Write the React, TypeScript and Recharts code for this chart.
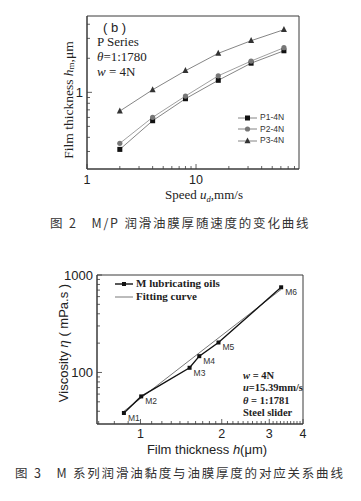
import React from "react";
import { LineChart, Line, XAxis, YAxis, ReferenceArea, Label, LabelList, Legend } from "recharts";

// Fig. 2 : film thickness vs speed (P series, 4N)
const speeds = [2, 4, 8, 16, 32, 64];
const p1Thickness = [0.313, 0.561, 0.878, 1.277, 1.81, 2.33];
const p2Thickness = [0.354, 0.601, 0.927, 1.4, 1.89, 2.48];
const p3Thickness = [0.683, 1.054, 1.553, 2.213, 2.86, 3.58];
const speedTicks = [1, 2, 3, 4, 5, 6, 7, 8, 9, 10, 20, 30, 40, 50, 60, 70, 80];
const speedLabels = [1, 10];
const thicknessTicks = [0.3, 0.4, 0.5, 0.6, 0.7, 0.8, 0.9, 1, 2, 3, 4];
const thicknessLabels = [1];

// Fig. 3 : viscosity vs film thickness (M series)
const oilNames = ["M1", "M2", "M3", "M4", "M5", "M6"];
const oilThickness = [0.868, 1.006, 1.52, 1.651, 1.945, 3.32];
const oilViscosity = [38.4, 56.8, 111.7, 147, 203, 748];
const fitThickness = [0.868, 3.32];
const fitViscosity = [40, 712];
const hTicks = [0.7, 0.8, 0.9, 1, 1.1, 1.2, 1.3, 1.4, 1.5, 1.6, 1.7, 1.8, 1.9, 2, 2.1, 2.2, 2.3, 2.4, 2.5, 2.6, 2.7, 2.8, 2.9, 3, 3.1, 3.2, 3.3, 3.4, 3.5, 3.6, 3.7, 3.8, 3.9, 4];
const hLabels = [1, 2, 3, 4];
const etaTicks = [40, 50, 60, 70, 80, 90, 100, 200, 300, 400, 500, 600, 700, 800, 900, 1000];
const etaLabels = [100, 1000];

const SANS = "'Liberation Sans', Arial, sans-serif";
const SERIF = "'Liberation Serif', 'Times New Roman', serif";
const CJK = "'Noto Sans CJK SC', sans-serif";
const AXIS = "#3a3a3a";

const speedData = speeds.map((s, i) => ({ speed: s, p1: p1Thickness[i], p2: p2Thickness[i], p3: p3Thickness[i] }));
const oilData = oilNames.map((n, i) => ({ name: n, h: oilThickness[i], eta: oilViscosity[i] }));
const fitData = fitThickness.map((h, i) => ({ h, eta: fitViscosity[i] }));

function leftTick(labels: number[]) {
  return (props: any) => {
    const { x, y, payload } = props;
    const major = labels.includes(payload.value);
    return (
      <g>
        <line x1={x} x2={x + (major ? 5 : 3)} y1={y} y2={y} stroke={AXIS} strokeWidth={0.8} />
        {major && (
          <text x={x - 4} y={y + 4.5} textAnchor="end" fontSize={13} fontFamily={SANS} fill="#222">
            {payload.value}
          </text>
        )}
      </g>
    );
  };
}

function bottomTick(labels: number[], gap: number) {
  return (props: any) => {
    const { x, y, payload } = props;
    const major = labels.includes(payload.value);
    return (
      <g>
        <line x1={x} x2={x} y1={y} y2={y - (major ? 5 : 3)} stroke={AXIS} strokeWidth={0.8} />
        {major && (
          <text x={x} y={y + gap} textAnchor="middle" fontSize={12.5} fontFamily={SANS} fill="#222">
            {payload.value}
          </text>
        )}
      </g>
    );
  };
}

const square = (size: number, fill: string) => (p: any) =>
  p.cx == null ? <g key={p.index} /> : (
    <rect key={p.index} x={p.cx - size / 2} y={p.cy - size / 2} width={size} height={size} fill={fill} />
  );
const circle = (r: number, fill: string) => (p: any) =>
  p.cx == null ? <g key={p.index} /> : <circle key={p.index} cx={p.cx} cy={p.cy} r={r} fill={fill} />;
const triangle = (s: number, fill: string) => (p: any) =>
  p.cx == null ? <g key={p.index} /> : (
    <path
      key={p.index}
      d={`M${p.cx},${p.cy - s * 0.6} L${p.cx + s / 2},${p.cy + s * 0.4} L${p.cx - s / 2},${p.cy + s * 0.4} Z`}
      fill={fill}
    />
  );

const speedLegend = [
  { name: "P1-4N", marker: <rect x={7} y={1.5} width={5} height={5} fill="#111" /> },
  { name: "P2-4N", marker: <circle cx={9.5} cy={4} r={2.6} fill="#777" /> },
  { name: "P3-4N", marker: <path d="M9.5,0.6 L12.5,6.2 L6.5,6.2 Z" fill="#333" /> },
];

function SpeedLegend() {
  return (
    <div style={{ fontFamily: SANS, fontSize: 8.5, color: "#333", lineHeight: "11.5px" }}>
      {speedLegend.map((r) => (
        <div key={r.name} style={{ display: "flex", alignItems: "center" }}>
          <svg width={20} height={8} style={{ marginRight: 2 }}>
            <line x1={0} x2={19} y1={4} y2={4} stroke="#666" strokeWidth={0.8} />
            {r.marker}
          </svg>
          {r.name}
        </div>
      ))}
    </div>
  );
}

function OilLegend() {
  return (
    <div style={{ fontFamily: SERIF, fontWeight: "bold", fontSize: 11, color: "#222", lineHeight: "13px" }}>
      <div style={{ display: "flex", alignItems: "center" }}>
        <svg width={19} height={8} style={{ marginRight: 2 }}>
          <line x1={0} x2={18} y1={4} y2={4} stroke="#111" strokeWidth={1.4} />
          <rect x={7} y={2} width={4} height={4} fill="#111" />
        </svg>
        M lubricating oils
      </div>
      <div style={{ display: "flex", alignItems: "center" }}>
        <svg width={19} height={8} style={{ marginRight: 2 }}>
          <line x1={0} x2={18} y1={4} y2={4} stroke="#555" strokeWidth={0.8} />
        </svg>
        Fitting curve
      </div>
    </div>
  );
}

const abs = (left: number, top: number): React.CSSProperties => ({ position: "absolute", left, top, whiteSpace: "nowrap" });

export default function App() {
  return (
    <div style={{ position: "absolute", left: 0, top: 0, width: 361, height: 501, background: "#fff", overflow: "hidden" }}>
      {/* Fig. 2 */}
      <div style={abs(0, 0)}>
        <LineChart width={361} height={205} data={speedData} margin={{ top: 16, right: 62, left: 0, bottom: 0 }}>
          <XAxis
            dataKey="speed"
            type="number"
            scale="log"
            domain={[1, 88]}
            allowDataOverflow
            ticks={speedTicks}
            interval={0}
            tickSize={0}
            tickMargin={0}
            tickLine={false}
            tick={bottomTick(speedLabels, 15)}
            height={36}
            stroke={AXIS}
          >
            <Label
              content={(p: any) => (
                <text x={204} y={p.viewBox.y + 30} textAnchor="middle" fontFamily={SERIF} fontSize={13} fill="#222">
                  Speed <tspan fontStyle="italic">u</tspan>
                  <tspan fontSize={8.5} dy={2.5} fontStyle="italic">d</tspan>
                  <tspan dy={-2.5}>,mm/s</tspan>
                </text>
              )}
            />
          </XAxis>
          <YAxis
            type="number"
            scale="log"
            domain={[0.21, 4.73]}
            allowDataOverflow
            ticks={thicknessTicks}
            interval={0}
            tickSize={0}
            tickMargin={0}
            tickLine={false}
            tick={leftTick(thicknessLabels)}
            width={87}
            stroke={AXIS}
          >
            <Label
              content={() => (
                <text x={68} y={100} transform="rotate(-90 68 100)" textAnchor="middle" dominantBaseline="central" fontFamily={SERIF} fontSize={13.5} fill="#222">
                  Film thickness <tspan fontStyle="italic">h</tspan>
                  <tspan fontSize={9} dy={3}>m</tspan>
                  <tspan dy={-3}>,μm</tspan>
                </text>
              )}
            />
          </YAxis>
          <ReferenceArea x1={1} x2={88} y1={0.21} y2={4.73} fill="none" stroke={AXIS} strokeWidth={1} ifOverflow="visible" />
          <Legend
            layout="vertical"
            align="center"
            verticalAlign="middle"
            wrapperStyle={{ left: 238, top: 112, width: 70 }}
            content={() => <SpeedLegend />}
          />
          <Line dataKey="p1" stroke="#666" strokeWidth={0.8} dot={square(5, "#111")} isAnimationActive={false} />
          <Line dataKey="p2" stroke="#888" strokeWidth={0.8} dot={circle(2.6, "#777")} isAnimationActive={false} />
          <Line dataKey="p3" stroke="#666" strokeWidth={0.8} dot={triangle(6, "#333")} isAnimationActive={false} />
        </LineChart>
      </div>
      <div style={{ ...abs(103, 20), fontFamily: SANS, fontSize: 13, color: "#222" }}>( b )</div>
      <div style={{ ...abs(97, 34), fontFamily: SERIF, fontSize: 13, color: "#222", lineHeight: "15px" }}>
        <div>P Series</div>
        <div><i>θ</i>=1:1780</div>
        <div><i>w</i> = 4N</div>
      </div>
      <div style={{ ...abs(50, 213), fontFamily: CJK, fontSize: 12.5, color: "#333", letterSpacing: 1.8 }}>
        图 2&nbsp;&nbsp;&nbsp;M/P 润滑油膜厚随速度的变化曲线
      </div>

      {/* Fig. 3 */}
      <div style={abs(0, 250)}>
        <LineChart width={361} height={210} margin={{ top: 25, right: 58, left: 0, bottom: 0 }}>
          <XAxis
            dataKey="h"
            type="number"
            scale="log"
            domain={[0.69, 4]}
            allowDataOverflow
            ticks={hTicks}
            interval={0}
            tickSize={0}
            tickMargin={0}
            tickLine={false}
            tick={bottomTick(hLabels, 14)}
            height={36}
            stroke={AXIS}
          >
            <Label
              content={(p: any) => (
                <text x={207} y={p.viewBox.y + 30} textAnchor="middle" fontFamily={SANS} fontSize={13} fill="#222">
                  Film thickness <tspan fontStyle="italic">h</tspan>(μm)
                </text>
              )}
            />
          </XAxis>
          <YAxis
            type="number"
            scale="log"
            domain={[29.6, 1000]}
            allowDataOverflow
            ticks={etaTicks}
            interval={0}
            tickSize={0}
            tickMargin={0}
            tickLine={false}
            tick={leftTick(etaLabels)}
            width={97}
            stroke={AXIS}
          >
            <Label
              content={() => (
                <text x={63} y={93} transform="rotate(-90 63 93)" textAnchor="middle" dominantBaseline="central" fontFamily={SANS} fontSize={13} fill="#222">
                  Viscosity <tspan fontStyle="italic">η</tspan> ( mPa.s )
                </text>
              )}
            />
          </YAxis>
          <ReferenceArea x1={0.69} x2={4} y1={29.6} y2={1000} fill="none" stroke={AXIS} strokeWidth={1} ifOverflow="visible" />
          <Legend
            layout="vertical"
            align="center"
            verticalAlign="middle"
            wrapperStyle={{ left: 115, top: 27, width: 150 }}
            content={() => <OilLegend />}
          />
          <Line data={fitData} dataKey="eta" stroke="#555" strokeWidth={0.8} dot={false} isAnimationActive={false} />
          <Line data={oilData} dataKey="eta" stroke="#111" strokeWidth={1.4} dot={square(4, "#111")} isAnimationActive={false}>
            <LabelList
              dataKey="name"
              content={(p: any) => (
                <text x={p.x + 4} y={p.y + 8} fontFamily={SANS} fontSize={8.5} fill="#333">
                  {p.value}
                </text>
              )}
            />
          </Line>
        </LineChart>
      </div>
      <div style={{ ...abs(243, 370), fontFamily: SERIF, fontWeight: "bold", fontSize: 10.5, color: "#222", lineHeight: "12.3px" }}>
        <div><i>w</i> = 4N</div>
        <div><i>u</i>=15.39mm/s</div>
        <div><i>θ</i> = 1:1781</div>
        <div>Steel slider</div>
      </div>
      <div style={{ ...abs(15, 463), fontFamily: CJK, fontSize: 12.5, color: "#333", letterSpacing: 1.8 }}>
        图 3&nbsp;&nbsp;&nbsp;M 系列润滑油黏度与油膜厚度的对应关系曲线
      </div>
    </div>
  );
}
